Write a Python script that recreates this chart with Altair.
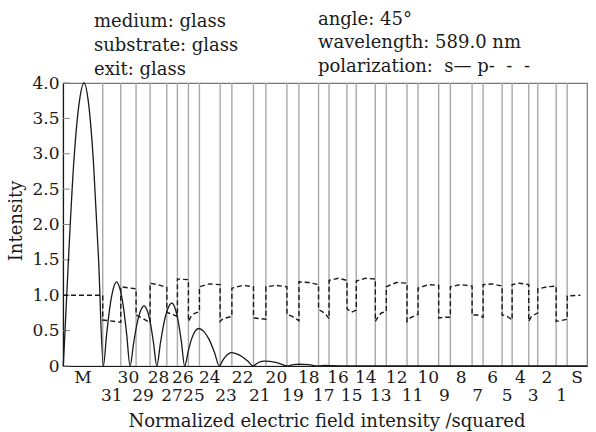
import altair as alt
import pandas as pd

# ---------------- data ----------------
# positions of the layer interfaces along the stack (M | 31 ... 1 | S)
boundaries = [39.7, 57.7, 73.0, 87.0, 103.7, 114.3, 125.3, 136.3, 157.0, 168.7,
              190.3, 202.7, 223.7, 235.7, 255.3, 265.8, 283.7, 293.0, 312.0, 323.0,
              343.7, 354.7, 375.3, 387.0, 408.7, 419.7, 438.7, 448.7, 465.3, 474.3,
              492.7, 503.7]
x_start = 0.0
x_end = 523.5
region_names = ["M"] + [str(n) for n in range(31, 0, -1)] + ["S"]

# s-polarization (solid)
s_x = [0.3, 5.5, 10.6, 15.8, 21.0, 25.8, 30.6, 35.5, 40.3,
       43.6, 46.9, 50.2, 53.5, 56.9, 60.3, 63.6, 67.0,
       70.5, 74.0, 77.5, 81.0, 84.2, 87.4, 90.5, 93.7,
       97.5, 101.2, 105.0, 108.7, 111.9, 115.1, 118.3, 121.5,
       125.0, 128.4, 131.9, 135.3, 140.6, 145.8, 151.1, 156.3,
       159.2, 162.1, 165.1, 168.0, 173.5, 179.0, 184.5, 190.0,
       192.8, 195.5, 198.3, 201.0, 206.7, 212.4, 218.0, 223.7,
       229.9, 236.0, 245.5, 255.0, 262.0, 270.0, 280.0, 523.5]
s_y = [0, 1.52, 2.84, 3.68, 4.0, 3.68, 2.84, 1.52, 0,
       0.45, 0.84, 1.09, 1.19, 1.09, 0.84, 0.45, 0,
       0.32, 0.60, 0.78, 0.85, 0.78, 0.60, 0.32, 0,
       0.34, 0.63, 0.82, 0.89, 0.82, 0.63, 0.34, 0,
       0.20, 0.38, 0.49, 0.53, 0.49, 0.38, 0.20, 0,
       0.07, 0.13, 0.17, 0.19, 0.17, 0.13, 0.07, 0,
       0.027, 0.05, 0.064, 0.07, 0.064, 0.05, 0.027, 0,
       0.018, 0.025, 0.018, 0, 0.01, 0.004, 0, 0]

# p-polarization (dashed)
p_x = [0, 39.7, 39.7, 57.7, 57.7, 73.0, 73.0, 80.0, 87.0, 87.0, 95.0, 103.7,
       103.7, 114.3, 114.3, 125.3, 125.3, 128.0, 131.0, 136.3, 136.3, 146.0, 157.0,
       157.0, 160.0, 168.7, 168.7, 180.0, 190.3, 190.3, 202.7, 202.7, 213.0, 223.7,
       223.7, 229.0, 235.7, 235.7, 245.0, 255.3, 255.3, 262.0, 265.8, 265.8, 275.0,
       283.7, 283.7, 288.0, 293.0, 293.0, 302.0, 312.0, 312.0, 315.0, 318.0, 323.0,
       323.0, 333.0, 343.7, 343.7, 347.0, 354.7, 354.7, 365.0, 375.3, 375.3, 381.0,
       387.0, 387.0, 397.0, 408.7, 408.7, 414.0, 419.7, 419.7, 429.0, 438.7, 438.7,
       443.0, 448.7, 448.7, 456.0, 465.3, 465.3, 468.0, 474.3, 474.3, 484.0, 492.7,
       492.7, 503.7, 503.7, 517.0]
p_y = [1.0, 1.0, 0.65, 0.62, 1.12, 1.09, 0.72, 0.67, 0.61, 1.17, 1.15, 1.11,
       0.76, 0.70, 1.23, 1.22, 0.63, 0.70, 0.74, 0.77, 1.12, 1.16, 1.15,
       0.63, 0.67, 0.70, 1.10, 1.14, 1.12, 0.68, 0.66, 1.12, 1.14, 1.12,
       0.73, 0.70, 0.64, 1.19, 1.18, 1.15, 0.80, 0.74, 0.67, 1.21, 1.24,
       1.21, 0.81, 0.76, 0.79, 1.20, 1.24, 1.23, 0.63, 0.70, 0.75, 0.77,
       1.12, 1.18, 1.17, 0.63, 0.68, 0.73, 1.10, 1.15, 1.14, 0.68, 0.69,
       0.69, 1.12, 1.15, 1.13, 0.72, 0.72, 0.69, 1.15, 1.16, 1.13, 0.72,
       0.71, 0.65, 1.15, 1.17, 1.15, 0.63, 0.70, 0.75, 1.09, 1.12, 1.13,
       0.63, 0.66, 0.99, 1.0]

y_ticks = [0, 0.5, 1.0, 1.5, 2.0, 2.5, 3.0, 3.5, 4.0]

info_left = ["medium: glass", "substrate: glass", "exit: glass"]
info_right = ["angle: 45°", "wavelength: 589.0 nm",
              "polarization:\u00a0 s\u2014\u00a0p-\u00a0 -\u00a0 -"]
y_title = "Intensity"
x_title = "Normalized electric field intensity /squared"

assert len(s_x) == len(s_y) and len(p_x) == len(p_y)

# ---------------- layout ----------------
W, H = 524, 283
PL, PT = 63, 83
FONT = "DejaVu Serif"
INK = "#1a1a1a"

xs = alt.Scale(domain=[x_start, x_end], nice=False, zero=False)
ys = alt.Scale(domain=[0, 4], nice=False, zero=True)

s_df = pd.DataFrame({"x": s_x, "y": s_y, "i": range(len(s_x))})
p_df = pd.DataFrame({"x": p_x, "y": p_y, "i": range(len(p_x))})
b_df = pd.DataFrame({"x": boundaries})
t_df = pd.DataFrame({"y": y_ticks})

edges = [x_start] + boundaries + [x_end]
lab_df = pd.DataFrame({
    "name": region_names,
    "x": [(edges[k] + edges[k + 1]) / 2 for k in range(len(region_names))],
})
lab_df["row"] = [0 if (n in ("M", "S") or int(n) % 2 == 0) else 1 for n in region_names]

X_AXIS = alt.Axis(labels=False, ticks=False, grid=False, domainColor=INK, domainWidth=1.2)
Y_AXIS = alt.Axis(values=y_ticks, ticks=False, grid=False, domainColor=INK, domainWidth=1.2,
                  labelFont=FONT, labelFontSize=17, labelColor=INK, labelPadding=4,
                  labelExpr="datum.value == 0 ? '0' : format(datum.value, '.1f')")

X = lambda: alt.X("x:Q", scale=xs, title=None, axis=X_AXIS)
Y = lambda: alt.Y("y:Q", scale=ys, title=None, axis=Y_AXIS)

grid = alt.Chart(b_df).mark_rule(color="#a9a9a9", strokeWidth=1.4).encode(
    x=X(), y=alt.value(0), y2=alt.value(H))

ticks = alt.Chart(t_df).mark_rule(color="#888888", strokeWidth=1).encode(
    y=Y(), x=alt.value(0), x2=alt.value(7))

s_line = alt.Chart(s_df).mark_line(color=INK, strokeWidth=1.3, interpolate="monotone").encode(
    x=X(), y=Y(), order="i:Q")

p_line = alt.Chart(p_df).mark_line(color=INK, strokeWidth=1.4, strokeDash=[5, 3]).encode(
    x=X(), y=Y(), order="i:Q")

labels = []
for row, base in ((0, 300), (1, 318)):
    labels.append(
        alt.Chart(lab_df[lab_df["row"] == row]).mark_text(
            font=FONT, fontSize=17, baseline="alphabetic", align="center", color=INK
        ).encode(x=X(), y=alt.value(base), text="name:N")
    )

texts = []
for k, line in enumerate(info_left):
    texts.append(alt.Chart(pd.DataFrame({"t": [line]})).mark_text(
        font=FONT, fontSize=18, align="left", baseline="alphabetic", color=INK
    ).encode(x=alt.value(94 - PL), y=alt.value([27, 51, 75][k] - PT), text="t:N"))
for k, line in enumerate(info_right):
    texts.append(alt.Chart(pd.DataFrame({"t": [line]})).mark_text(
        font=FONT, fontSize=18, align="left", baseline="alphabetic", color=INK
    ).encode(x=alt.value(318 - PL), y=alt.value([24.5, 48, 71.5][k] - PT), text="t:N"))

texts.append(alt.Chart(pd.DataFrame({"t": [x_title]})).mark_text(
    font=FONT, fontSize=18, align="center", baseline="alphabetic", color=INK
).encode(x=alt.value(327 - PL), y=alt.value(427 - PT), text="t:N"))
texts.append(alt.Chart(pd.DataFrame({"t": [y_title]})).mark_text(
    font=FONT, fontSize=18, align="center", baseline="middle", angle=270, color=INK
).encode(x=alt.value(17 - PL), y=alt.value(221 - PT), text="t:N"))

chart = alt.layer(grid, ticks, s_line, p_line, *labels, *texts).properties(
    width=W, height=H,
    background="white",
    padding={"left": PL, "top": PT, "right": 596 - PL - W, "bottom": 432 - PT - H},
    autosize=alt.AutoSizeParams(type="none"),
).configure_view(stroke="#777777", strokeWidth=1.2)

chart.save("out.html", embed_options={"renderer": "svg", "actions": False})
